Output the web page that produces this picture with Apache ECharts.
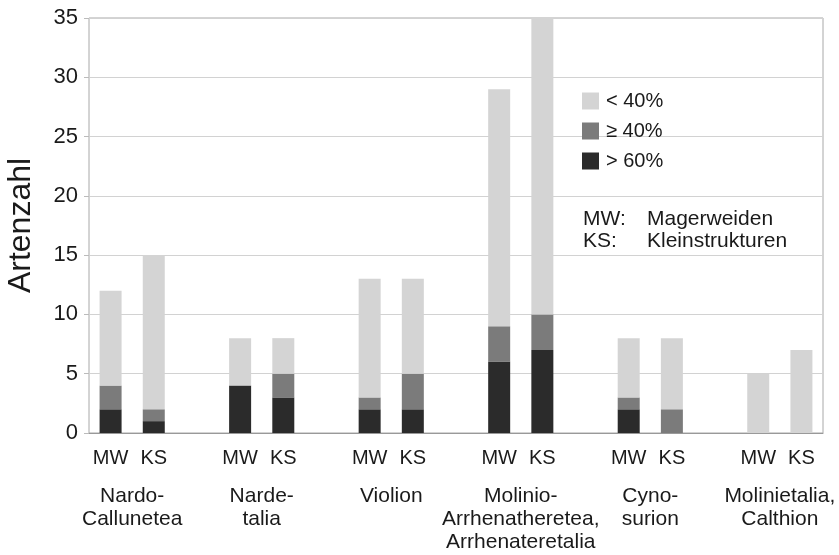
<!DOCTYPE html>
<html>
<head>
<meta charset="utf-8">
<script src="https://cdn.jsdelivr.net/npm/echarts@6/dist/echarts.min.js"></script>
<style>html,body{margin:0;padding:0;background:#fff}#c{width:839px;height:555px}</style>
</head>
<body>
<div id="c"></div>
<script>
const groups = ['Nardo-\nCallunetea', 'Narde-\ntalia', 'Violion', 'Molinio-\nArrhenatheretea,\nArrhenateretalia', 'Cyno-\nsurion', 'Molinietalia,\nCalthion'];
const subLabels = ['MW', 'KS'];
const seriesNames = ['> 60%', '≥ 40%', '< 40%'];
const over60MW = [2, 4, 2, 6, 2, 0];
const over60KS = [1, 3, 2, 7, 0, 0];
const over40MW = [2, 0, 1, 3, 1, 0];
const over40KS = [1, 2, 3, 3, 2, 0];
const under40MW = [8, 4, 10, 20, 5, 5];
const under40KS = [13, 3, 8, 25, 6, 7];
const yTicks = [0, 5, 10, 15, 20, 25, 30, 35];

const colors = ['#2b2b2b', '#7b7b7b', '#d4d4d4'];
const font = 'Liberation Sans, Arial, Helvetica, sans-serif';

const cats = [];
function slots(mw, ks) {
  const out = [];
  for (let i = 0; i < groups.length; i++) {
    out.push(mw[i], ks[i]);
    if (i < groups.length - 1) out.push('-');
  }
  return out;
}
for (let i = 0; i < groups.length; i++) {
  cats.push(subLabels[0], subLabels[1]);
  if (i < groups.length - 1) cats.push('');
}
const seriesData = [slots(over60MW, over60KS), slots(over40MW, over40KS), slots(under40MW, under40KS)];

const chart = echarts.init(document.getElementById('c'));
chart.setOption({
  animation: false,
  textStyle: { fontFamily: font },
  grid: { left: 89, right: 16, top: 18, bottom: 122, show: true, borderColor: '#a8a8a8', borderWidth: 1, containLabel: false, outerBoundsMode: 'none' },
  legend: {
    orient: 'vertical', left: 577, top: 86,
    data: ['< 40%', '≥ 40%', '> 60%'],
    icon: 'rect', itemWidth: 17, itemHeight: 17, itemGap: 10,
    textStyle: { fontSize: 20, color: '#1a1a1a', fontFamily: font, padding: [0, 0, 0, 2] }
  },
  xAxis: [
    {
      type: 'category', data: cats, position: 'bottom',
      axisLine: { lineStyle: { color: '#999', width: 1 } },
      axisTick: { show: false },
      axisLabel: { fontSize: 20, color: '#1a1a1a', margin: 15, interval: 0 }
    },
    {
      type: 'value', min: 0, max: 17, interval: 1, position: 'bottom',
      axisLine: { show: false }, axisTick: { show: false }, splitLine: { show: false },
      axisLabel: {
        fontSize: 21, color: '#1a1a1a', margin: 52, lineHeight: 23,
        showMinLabel: false, showMaxLabel: false,
        formatter: function (v) {
          const r = Math.round(v);
          return (r % 3 === 1) ? groups[(r - 1) / 3] : '';
        }
      }
    }
  ],
  yAxis: {
    type: 'value', min: 0, max: 35, interval: 5,
    name: 'Artenzahl', nameLocation: 'middle', nameGap: 52,
    nameTextStyle: { fontSize: 32, color: '#1a1a1a', fontFamily: font },
    axisLine: { show: false },
    axisTick: { show: true, length: 5, lineStyle: { color: '#bbb' } },
    axisLabel: { fontSize: 22, color: '#1a1a1a', margin: 11 },
    splitLine: { lineStyle: { color: '#d2d2d2', width: 1 } }
  },
  graphic: [
    { type: 'text', left: 583, top: 209, style: { text: 'MW:', font: '21px ' + font, fill: '#1a1a1a' } },
    { type: 'text', left: 647, top: 209, style: { text: 'Magerweiden', font: '21px ' + font, fill: '#1a1a1a' } },
    { type: 'text', left: 583, top: 231, style: { text: 'KS:', font: '21px ' + font, fill: '#1a1a1a' } },
    { type: 'text', left: 647, top: 231, style: { text: 'Kleinstrukturen', font: '21px ' + font, fill: '#1a1a1a' } }
  ],
  series: seriesNames.map((n, i) => ({
    name: n, type: 'bar', stack: 'all', xAxisIndex: 0, barWidth: 22,
    itemStyle: { color: colors[i] },
    data: seriesData[i]
  }))
});
</script>
</body>
</html>
